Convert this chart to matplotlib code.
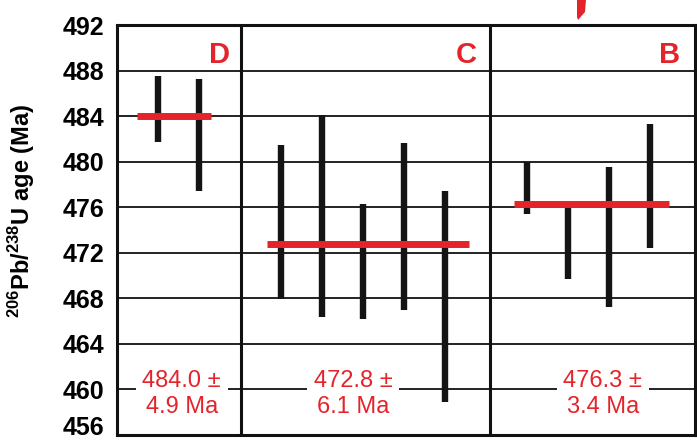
import matplotlib
matplotlib.use("Agg")
import matplotlib.pyplot as plt
from matplotlib.patches import Polygon

plt.rcParams['font.family'] = ['Liberation Sans', 'DejaVu Sans']
plt.rcParams['mathtext.fontset'] = 'custom'
plt.rcParams['mathtext.rm'] = 'Liberation Sans:bold'
plt.rcParams['mathtext.bf'] = 'Liberation Sans:bold'

# ---- data ----
groups = ['D', 'C', 'B']
group_x = [[1, 2], [4, 5, 6, 7, 8], [10, 11, 12, 13]]
group_low = [[481.7, 477.4],
             [467.9, 466.4, 466.2, 467.0, 458.9],
             [475.4, 469.7, 467.2, 472.4]]
group_high = [[487.5, 487.3],
              [481.5, 484.1, 476.3, 481.6, 477.4],
              [480.0, 476.0, 479.5, 483.3]]
mean_age = [484.0, 472.8, 476.3]
mean_err = [4.9, 6.1, 3.4]
mean_span = [(0.49, 2.29), (3.66, 8.59), (9.68, 13.46)]
dividers = [3.02, 9.1]
label_x = [1.58, 5.76, 11.85]
letter_x = [2.76, 8.78, 13.73]
yticks = [456, 460, 464, 468, 472, 476, 480, 484, 488, 492]

RED = '#e3242b'
W, H = 697, 444
fig = plt.figure(figsize=(W / 100, H / 100), dpi=100)
ax = fig.add_axes([117 / W, 1 - 435 / H, (695 - 117) / W, (435 - 25) / H])
ax.set_xlim(0, (695 - 117) / 41)
ax.set_ylim(456, 492)

for y in yticks[1:-1]:
    ax.axhline(y, color='#222222', lw=1.4, zorder=1)
for d in dividers:
    ax.axvline(d, color='#111111', lw=2.2, zorder=2)

for xs, lo, hi in zip(group_x, group_low, group_high):
    ax.vlines(xs, lo, hi, color='#141414', lw=4.6, zorder=3)

for (x0, x1), m in zip(mean_span, mean_age):
    ax.hlines(m, x0, x1, color=RED, lw=5.0, zorder=4)

for g, lx, tx, m, e in zip(groups, letter_x, label_x, mean_age, mean_err):
    ax.text(lx, 489.4, g, color=RED, fontsize=21, fontweight='bold',
            ha='right', va='center', zorder=5)
    ax.text(tx, 459.6, f'{m:.1f} \u00b1\n{e:.1f} Ma', color=RED, fontsize=17,
            ha='center', va='center', linespacing=1.22, zorder=5,
            bbox=dict(facecolor='white', edgecolor='none', pad=5))

ax.set_xticks([])
ax.set_yticks(yticks)
ax.set_yticklabels([str(t) for t in yticks], fontsize=18, fontweight='bold')
ax.tick_params(axis='y', length=0, pad=9)
ax.get_yticklabels()[0].set_va('baseline')
for s in ax.spines.values():
    s.set_linewidth(2.2)
    s.set_color('#111111')

fig.text(22 / W, 1 - 211 / H, r'$^{206}$Pb/$^{238}$U age (Ma)', rotation=90,
         fontsize=17, fontweight='bold', ha='center', va='center')

# small red mark at top edge (partially cropped in the source)
pts = [(577, 0), (586, 0), (585, 12), (578, 20), (577, 17)]
fig.patches.append(Polygon([(px / W, 1 - py / H) for px, py in pts], closed=True,
                           transform=fig.transFigure, facecolor=RED, edgecolor='none'))

fig.savefig('out.png', dpi=100)
